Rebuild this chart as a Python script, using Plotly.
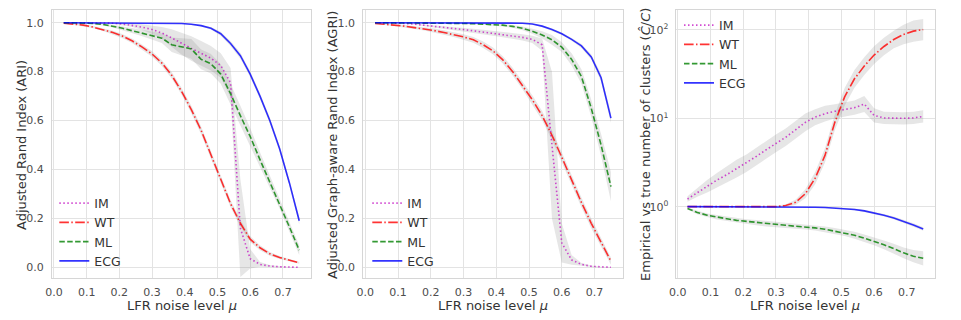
import plotly.graph_objects as go

# ---------------- data ----------------
mu = [0.03, 0.06, 0.09, 0.12, 0.15, 0.18, 0.21, 0.24, 0.27, 0.30, 0.33, 0.36, 0.39,
      0.42, 0.45, 0.48, 0.51, 0.54, 0.57, 0.60, 0.63, 0.66, 0.69, 0.72, 0.75]

series_names = ["IM", "WT", "ML", "ECG"]

# Panel 1: ARI (mean, std)
ari_im = [1.0, 1.0, 1.0, 0.999, 0.999, 0.998, 0.995, 0.99, 0.982, 0.972, 0.958, 0.938, 0.915,
          0.895, 0.875, 0.855, 0.825, 0.755, 0.16, 0.035, 0.012, 0.005, 0.002, 0.001, 0.0]
ari_wt = [0.998, 0.995, 0.99, 0.982, 0.972, 0.96, 0.945, 0.925, 0.90, 0.872, 0.835, 0.785, 0.72,
          0.645, 0.56, 0.46, 0.36, 0.26, 0.18, 0.115, 0.08, 0.055, 0.04, 0.028, 0.018]
ari_ml = [1.0, 1.0, 0.999, 0.997, 0.993, 0.986, 0.977, 0.967, 0.957, 0.947, 0.937, 0.91, 0.90,
          0.893, 0.85, 0.832, 0.79, 0.71, 0.62, 0.535, 0.44, 0.35, 0.26, 0.165, 0.07]
ari_ecg = [1.0, 1.0, 1.0, 1.0, 1.0, 1.0, 1.0, 1.0, 1.0, 1.0, 0.999, 0.998, 0.997,
           0.994, 0.988, 0.977, 0.955, 0.915, 0.865, 0.79, 0.70, 0.60, 0.485, 0.345, 0.19]
ari_im_sd = [0, 0, 0, 0.001, 0.002, 0.003, 0.005, 0.008, 0.012, 0.018, 0.025, 0.035, 0.045,
             0.05, 0.05, 0.05, 0.05, 0.06, 0.2, 0.04, 0.01, 0.004, 0.002, 0.001, 0.001]
ari_wt_sd = [0.002, 0.003, 0.004, 0.005, 0.006, 0.007, 0.008, 0.009, 0.01, 0.011, 0.012, 0.013, 0.014,
             0.015, 0.016, 0.016, 0.016, 0.015, 0.014, 0.012, 0.01, 0.008, 0.006, 0.005, 0.004]
ari_ml_sd = [0, 0, 0.001, 0.002, 0.004, 0.006, 0.008, 0.01, 0.012, 0.015, 0.02, 0.03, 0.035,
             0.04, 0.04, 0.04, 0.04, 0.04, 0.04, 0.035, 0.03, 0.025, 0.02, 0.02, 0.02]
ari_ecg_sd = [0, 0, 0, 0, 0, 0.001, 0.001, 0.001, 0.001, 0.001, 0.001, 0.001, 0.001,
              0.002, 0.003, 0.005, 0.008, 0.01, 0.012, 0.012, 0.012, 0.012, 0.012, 0.012, 0.015]

# Panel 2: AGRI (mean, std)
agri_im = [1.0, 1.0, 0.999, 0.997, 0.994, 0.99, 0.986, 0.982, 0.977, 0.972, 0.967, 0.962, 0.957,
           0.952, 0.947, 0.94, 0.932, 0.91, 0.5, 0.10, 0.03, 0.012, 0.004, 0.001, 0.0]
agri_wt = [0.997, 0.994, 0.99, 0.986, 0.98, 0.975, 0.968, 0.96, 0.952, 0.942, 0.93, 0.91, 0.885,
           0.848, 0.80, 0.745, 0.685, 0.62, 0.54, 0.45, 0.355, 0.265, 0.18, 0.10, 0.025]
agri_ml = [1.0, 1.0, 1.0, 1.0, 0.999, 0.999, 0.999, 0.998, 0.998, 0.997, 0.996, 0.995, 0.993,
           0.99, 0.985, 0.977, 0.965, 0.95, 0.93, 0.90, 0.85, 0.78, 0.65, 0.50, 0.33]
agri_ecg = [1.0, 1.0, 1.0, 1.0, 1.0, 1.0, 1.0, 1.0, 1.0, 1.0, 1.0, 1.0, 1.0,
            1.0, 0.999, 0.998, 0.995, 0.986, 0.972, 0.955, 0.932, 0.905, 0.86, 0.775, 0.61]
agri_im_sd = [0, 0, 0, 0.001, 0.002, 0.003, 0.004, 0.005, 0.006, 0.007, 0.008, 0.009, 0.01,
              0.011, 0.012, 0.013, 0.015, 0.025, 0.3, 0.08, 0.02, 0.006, 0.003, 0.001, 0.001]
agri_wt_sd = [0.002, 0.003, 0.004, 0.005, 0.006, 0.007, 0.008, 0.009, 0.01, 0.011, 0.012, 0.013, 0.014,
              0.015, 0.016, 0.017, 0.018, 0.019, 0.02, 0.02, 0.02, 0.02, 0.02, 0.018, 0.015]
agri_ml_sd = [0, 0, 0, 0, 0.001, 0.001, 0.001, 0.002, 0.002, 0.002, 0.003, 0.003, 0.004,
              0.005, 0.006, 0.008, 0.01, 0.015, 0.02, 0.02, 0.025, 0.03, 0.035, 0.045, 0.06]
agri_ecg_sd = [0, 0, 0, 0, 0, 0, 0, 0, 0, 0, 0, 0, 0.001,
               0.001, 0.001, 0.002, 0.002, 0.003, 0.004, 0.005, 0.006, 0.008, 0.01, 0.015, 0.02]

# Panel 3: ratio of cluster counts (mean, spread in log10 units)
ratio_im = [1.22, 1.45, 1.7, 2.0, 2.3, 2.7, 3.1, 3.7, 4.4, 5.2, 6.1, 7.4, 9.0,
            10.3, 11.3, 12.0, 12.6, 13.2, 14.5, 10.8, 10.1, 10.0, 10.0, 10.1, 10.5]
ratio_wt = [1.0, 1.0, 1.0, 1.0, 1.0, 1.0, 1.0, 1.0, 1.0, 1.0, 1.03, 1.12, 1.4,
            2.1, 3.8, 9.0, 17.5, 28.0, 39.0, 52.0, 65.0, 78.0, 89.0, 97.0, 101.0]
ratio_ml = [0.95, 0.86, 0.80, 0.76, 0.73, 0.70, 0.68, 0.66, 0.64, 0.63, 0.615, 0.60, 0.59,
            0.575, 0.555, 0.53, 0.505, 0.475, 0.44, 0.405, 0.37, 0.335, 0.30, 0.275, 0.26]
ratio_ecg = [1.0, 1.0, 1.0, 1.0, 1.0, 1.0, 1.0, 1.0, 1.0, 1.0, 0.995, 0.993, 0.99,
             0.985, 0.977, 0.967, 0.952, 0.93, 0.895, 0.85, 0.80, 0.745, 0.685, 0.62, 0.56]
ratio_im_sp = [0.03, 0.05, 0.07, 0.08, 0.09, 0.1, 0.1, 0.1, 0.1, 0.1, 0.1, 0.1, 0.1,
               0.09, 0.09, 0.08, 0.08, 0.08, 0.09, 0.08, 0.07, 0.07, 0.07, 0.07, 0.07]
ratio_wt_sp = [0.005, 0.005, 0.005, 0.005, 0.005, 0.005, 0.005, 0.005, 0.01, 0.01, 0.015, 0.03, 0.05,
               0.07, 0.08, 0.09, 0.1, 0.1, 0.1, 0.1, 0.1, 0.1, 0.11, 0.12, 0.12]
ratio_ml_sp = [0.01, 0.02, 0.02, 0.025, 0.025, 0.025, 0.025, 0.03, 0.03, 0.03, 0.03, 0.03, 0.03,
               0.03, 0.03, 0.035, 0.035, 0.04, 0.04, 0.045, 0.05, 0.055, 0.06, 0.07, 0.08]
ratio_ecg_sp = [0.003, 0.003, 0.003, 0.003, 0.003, 0.003, 0.003, 0.003, 0.003, 0.003, 0.004, 0.004, 0.005,
                0.005, 0.006, 0.007, 0.008, 0.01, 0.012, 0.014, 0.015, 0.016, 0.018, 0.02, 0.02]

x_ticks = [0.0, 0.1, 0.2, 0.3, 0.4, 0.5, 0.6, 0.7]
x_ticklabels = ["0.0", "0.1", "0.2", "0.3", "0.4", "0.5", "0.6", "0.7"]
y_ticks = [0.0, 0.2, 0.4, 0.6, 0.8, 1.0]
y_ticklabels = ["0.0", "0.2", "0.4", "0.6", "0.8", "1.0"]
log_ticks = [1, 10, 100]
log_ticklabels = ["10<sup>0</sup>", "10<sup>1</sup>", "10<sup>2</sup>"]

x_title = "LFR noise level <i>μ</i>"
y_titles = ["Adjusted Rand Index (ARI)",
            "Adjusted Graph-aware Rand Index (AGRI)",
            "Empirical vs true number of clusters (<i>Ĉ</i>/<i>C</i>)"]

# ---------------- styles / layout ----------------
OFF = 8                     # page body margin in the browser
W, H = 961 - OFF, 320 - OFF  # figure size so it fits the window exactly
FONT = "DejaVu Sans"
colors = ["rgba(191,0,191,0.7)", "rgba(255,0,0,0.8)", "rgba(0,128,0,0.8)", "rgba(0,0,255,0.8)"]
dashes = ["1.5px,2.5px", "9.6px,2.4px,1.5px,2.4px", "5.5px,2.4px", "solid"]
band_color = "rgba(128,128,128,0.2)"


def fx(px):  # page x pixel -> paper fraction
    return (px - OFF) / W


def fy(py):  # page y pixel -> paper fraction
    return 1 - (py - OFF) / H


panels = [
    dict(means=[ari_im, ari_wt, ari_ml, ari_ecg],
         sds=[ari_im_sd, ari_wt_sd, ari_ml_sd, ari_ecg_sd], log=False,
         xpx=(52, 311), legend_pos=(54.3, 188.5), ytitle_x=21),
    dict(means=[agri_im, agri_wt, agri_ml, agri_ecg],
         sds=[agri_im_sd, agri_wt_sd, agri_ml_sd, agri_ecg_sd], log=False,
         xpx=(363.3, 622.7), legend_pos=(367.3, 188.5), ytitle_x=332),
    dict(means=[ratio_im, ratio_wt, ratio_ml, ratio_ecg],
         sds=[ratio_im_sp, ratio_wt_sp, ratio_ml_sp, ratio_ecg_sp], log=True,
         xpx=(675.7, 935), legend_pos=(679, 10.5), ytitle_x=645),
]
ytop, ybot = 10, 278.3

fig = go.Figure()
layout = dict(width=W, height=H, margin=dict(l=0, r=0, t=0, b=0),
              paper_bgcolor="white", plot_bgcolor="white",
              font=dict(family=FONT, color="#333"), annotations=[])

for p, pan in enumerate(panels, start=1):
    sfx = "" if p == 1 else str(p)
    xa, ya = "x" + sfx, "y" + sfx
    legname = "legend" + sfx
    for m, s in zip(pan["means"], pan["sds"]):
        if pan["log"]:
            up = [v * 10 ** d for v, d in zip(m, s)]
            lo = [v / 10 ** d for v, d in zip(m, s)]
        else:
            up = [v + d for v, d in zip(m, s)]
            lo = [v - d for v, d in zip(m, s)]
        fig.add_trace(go.Scatter(x=mu + mu[::-1], y=up + lo[::-1], fill="toself",
                                 fillcolor=band_color, line=dict(width=0),
                                 mode="lines", showlegend=False, hoverinfo="skip",
                                 xaxis=xa, yaxis=ya))
    for name, m, c, d in zip(series_names, pan["means"], colors, dashes):
        fig.add_trace(go.Scatter(x=mu, y=m, mode="lines", name=name,
                                 line=dict(color=c, width=1.6, dash=d),
                                 xaxis=xa, yaxis=ya, legend=legname))
    x0, x1 = pan["xpx"]
    axis_common = dict(showgrid=True, gridcolor="#e3e3e3", gridwidth=1, zeroline=False,
                       showline=True, linecolor="#d6d6d6", linewidth=1, mirror=True,
                       ticks="", tickfont=dict(family=FONT, size=11, color="#4d4d4d"),
                       automargin=False)
    layout["xaxis" + sfx] = dict(axis_common, domain=[fx(x0), fx(x1)], range=[-0.006, 0.786],
                                 tickvals=x_ticks, ticktext=x_ticklabels, anchor=ya,
                                 ticklabelstandoff=3)
    ydom = [fy(ybot), fy(ytop)]
    if pan["log"]:
        layout["yaxis" + sfx] = dict(axis_common, domain=ydom,
                                     type="log", range=[-0.811, 2.226],
                                     tickvals=log_ticks, ticktext=log_ticklabels, anchor=xa,
                                     ticklabelstandoff=4)
    else:
        layout["yaxis" + sfx] = dict(axis_common, domain=ydom,
                                     range=[-0.045, 1.052],
                                     tickvals=y_ticks, ticktext=y_ticklabels, anchor=xa,
                                     ticklabelstandoff=5)
    lx, ly = pan["legend_pos"]
    layout[legname] = dict(x=fx(lx), y=fy(ly), xanchor="left", yanchor="top",
                           bgcolor="rgba(0,0,0,0)", borderwidth=0, tracegroupgap=0,
                           font=dict(family=FONT, size=12.5, color="#333"))
    layout["annotations"].append(dict(text=x_title, xref="paper", yref="paper",
                                      x=fx((x0 + x1) / 2), y=fy(305.7),
                                      xanchor="center", yanchor="middle", showarrow=False,
                                      font=dict(family=FONT, size=13, color="#333")))
    layout["annotations"].append(dict(text=y_titles[p - 1], xref="paper", yref="paper",
                                      x=fx(pan["ytitle_x"]), y=fy(145), textangle=-90,
                                      xanchor="center", yanchor="middle", showarrow=False,
                                      font=dict(family=FONT, size=13, color="#333")))

fig.update_layout(**layout)
fig.write_html("out.html")
